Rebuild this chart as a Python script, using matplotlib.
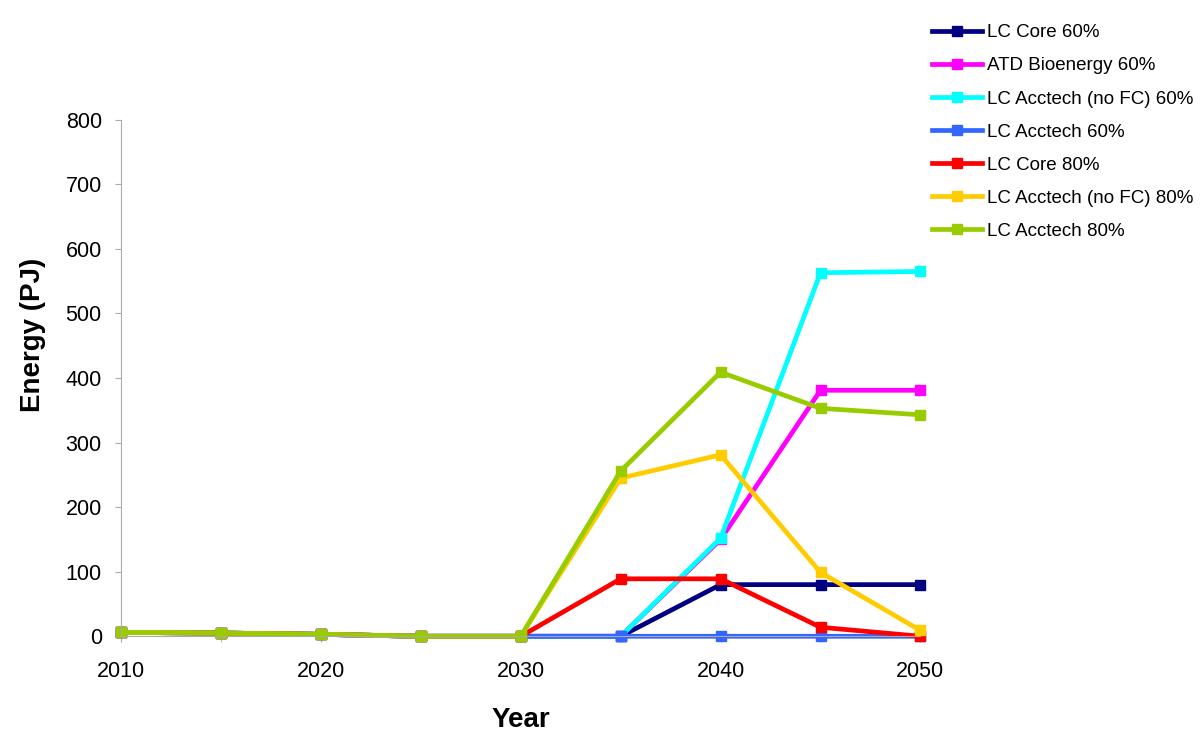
import matplotlib.pyplot as plt

plt.rcParams['font.family'] = ['Liberation Sans', 'DejaVu Sans']

years = [2010, 2015, 2020, 2025, 2030, 2035, 2040, 2045, 2050]

lc_core_60 = [6, 5, 3, 0, 0, 0, 80, 80, 80]
atd_bio_60 = [6, 5, 3, 0, 0, 0, 150, 381, 381]
lc_acc_nofc_60 = [6, 5, 3, 0, 0, 0, 152, 563, 565]
lc_acc_60 = [6, 5, 3, 0, 0, 0, 0, 0, 0]
lc_core_80 = [6, 5, 3, 0, 0, 89, 89, 14, 0]
lc_acc_nofc_80 = [6, 5, 3, 0, 0, 245, 281, 99, 9]
lc_acc_80 = [6, 5, 3, 0, 0, 256, 409, 353, 343]

series = [
    ("LC Core 60%", lc_core_60, "#000080"),
    ("ATD Bioenergy 60%", atd_bio_60, "#ff00ff"),
    ("LC Acctech (no FC) 60%", lc_acc_nofc_60, "#00ffff"),
    ("LC Acctech 60%", lc_acc_60, "#3366ff"),
    ("LC Core 80%", lc_core_80, "#ff0000"),
    ("LC Acctech (no FC) 80%", lc_acc_nofc_80, "#ffcc00"),
    ("LC Acctech 80%", lc_acc_80, "#99cc00"),
]

fig = plt.figure(figsize=(12, 7.39), dpi=100)
ax = fig.add_axes([0.101, 0.139, 0.666, 0.699])

for name, vals, col in series:
    ax.plot(years, vals, color=col, lw=3.4, marker='s', ms=7, label=name, clip_on=False)

ax.set_xlim(2010, 2050)
ax.set_ylim(0, 800)
ax.set_xticks(range(2010, 2051, 10))
ax.set_xticks(range(2010, 2051, 5), minor=True)
ax.set_yticks(range(0, 801, 100))
ax.tick_params(axis='both', labelsize=15.5, colors='black', length=4, color='#aaaaaa')
ax.tick_params(axis='x', which='minor', length=4, color='#aaaaaa')
ax.tick_params(axis='x', pad=14)
ax.tick_params(axis='y', pad=10)
for s in ['top', 'right']:
    ax.spines[s].set_visible(False)
for s in ['left', 'bottom']:
    ax.spines[s].set_color('#aaaaaa')

ax.set_xlabel("Year", fontsize=20, fontweight='bold')
ax.set_ylabel("Energy (PJ)", fontsize=20, fontweight='bold')
ax.xaxis.set_label_coords(0.5, -0.136)
ax.yaxis.set_label_coords(-0.094, 0.583)

fig.legend(loc='upper left', bbox_to_anchor=(0.7625, 0.99), frameon=False,
           fontsize=13.5, handlelength=2.65, labelspacing=0.85, handletextpad=0.3)

fig.savefig('out.png')
